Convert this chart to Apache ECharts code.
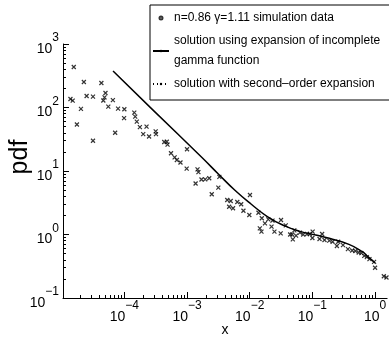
<!DOCTYPE html>
<html>
<head>
<meta charset="UTF-8">
<title>pdf</title>
<script src="https://cdn.jsdelivr.net/npm/echarts@6.0.0/dist/echarts.min.js"></script>
<style>
  html, body { margin: 0; padding: 0; background: #fff; }
  #chart { width: 389px; height: 345px; }
</style>
</head>
<body>
<div id="chart"></div>
<script>
// simulation data (x, pdf)
var simX = [1.38e-5, 1.50e-5, 1.56e-5, 1.75e-5, 2.03e-5, 2.26e-5, 2.50e-5, 3.16e-5, 3.16e-5, 4.30e-5,
  4.62e-5, 4.83e-5, 5.0e-5, 5.55e-5, 6.56e-5, 7.13e-5, 7.94e-5, 1.0e-4, 9.9e-5, 1.44e-4,
  1.49e-4, 1.58e-4, 1.77e-4, 2.0e-4, 2.26e-4, 2.48e-4, 3.16e-4, 3.2e-4, 4.33e-4, 4.75e-4,
  4.89e-4, 5.55e-4, 6.34e-4, 6.88e-4, 7.86e-4, 1.0e-3, 9.87e-4, 1.37e-3, 1.47e-3, 1.52e-3,
  1.70e-3, 1.95e-3, 2.26e-3, 2.48e-3, 3.16e-3, 3.28e-3, 4.38e-3, 4.98e-3, 4.70e-3, 5.42e-3,
  6.34e-3, 7.31e-3, 7.94e-3, 1.01e-2, 9.86e-3, 1.38e-2, 1.56e-2, 1.75e-2, 1.45e-2, 1.54e-2,
  1.98e-2, 2.31e-2, 2.23e-2, 2.48e-2, 3.16e-2, 3.12e-2, 3.76e-2, 4.42e-2, 4.75e-2, 4.87e-2,
  5.15e-2, 5.49e-2, 6.33e-2, 7.13e-2, 8.23e-2, 9.08e-2, 0.101, 0.100, 0.130, 0.143,
  0.156, 0.186, 0.210, 0.246, 0.258, 0.308, 0.369, 0.431, 0.486, 0.548,
  0.604, 0.673, 0.739, 0.814, 0.964, 1.0, 1.38, 1.52];
var simY = [136, 128, 434, 54, 95, 252, 152, 148, 30, 243,
  129, 144, 169, 103, 131, 40, 96, 94, 68, 83,
  72, 60, 49, 38, 50, 35, 42, 38, 28.6, 28.9,
  26, 19, 16.4, 14.9, 13.6, 22, 10.9, 6.35, 10.6, 9.6,
  7.35, 7.4, 7.7, 4.3, 5.46, 8.1, 3.49, 3.37, 2.74, 2.59,
  3.25, 2.99, 2.37, 4.19, 2.03, 2.20, 1.80, 1.50, 1.25, 1.11,
  1.73, 1.65, 1.33, 1.11, 1.69, 1.04, 1.39, 1.0, 1.0, 0.84,
  1.16, 0.96, 1.07, 1.0, 1.02, 1.02, 1.11, 0.88, 0.85, 1.02,
  0.82, 0.80, 0.77, 0.66, 0.77, 0.68, 0.59, 0.56, 0.55, 0.52,
  0.51, 0.46, 0.44, 0.41, 0.37, 0.30, 0.22, 0.21];

// solution using expansion of incomplete gamma function
var fitX = [6.6e-5, 2.87e-4, 1.73e-3, 3.16e-3, 5.75e-3, 1.05e-2, 1.91e-2, 3.47e-2, 6.33e-2, 0.113, 0.186, 0.383, 0.618, 0.785, 1.0];
var fitY = [376, 91, 16.3, 8.97, 5.02, 3.02, 1.92, 1.39, 1.12, 0.98, 0.87, 0.70, 0.54, 0.44, 0.356];

// second-order expansion (not distinguishable in the figure)
var secondX = [];
var secondY = [];

var xMajor = [1e-4, 1e-3, 1e-2, 1e-1, 1];
var yMajor = [0.1, 1, 10, 100, 1000];
var legendNames = ['n=0.86 \u03b3=1.11 simulation data',
  'solution using expansion of incomplete\ngamma function',
  'solution with second\u2013order expansion'];

function minorOf(decades) {
  var out = [];
  decades.forEach(function (d) {
    for (var k = 2; k <= 9; k++) out.push(d * k);
  });
  return out;
}

function pairs(xs, ys) {
  return xs.map(function (x, i) { return [x, ys[i]]; });
}

var font = "'Liberation Sans', Arial, sans-serif";

function powLabel(v) {
  var e = Math.round(Math.log10(v));
  return '{b|10}{e|' + String(e).replace('-', '\u2212') + '}';
}
var powRich = {
  b: { fontSize: 14, fontFamily: font, color: '#000', verticalAlign: 'bottom', lineHeight: 24 },
  e: { fontSize: 12, fontFamily: font, color: '#000', verticalAlign: 'top', lineHeight: 12 }
};

var xMin = 1.05e-5, xMax = 1.556;
var chart = echarts.init(document.getElementById('chart'));
chart.setOption({
  animation: false,
  grid: { left: 58, right: 0, top: 44, bottom: 47 },
  legend: {
    orient: 'vertical',
    left: 150, top: 5,
    padding: [3, 10, 6, 2],
    itemGap: 3,
    itemWidth: 16, itemHeight: 3,
    borderColor: '#000', borderWidth: 1,
    backgroundColor: '#fff',
    textStyle: { fontFamily: font, fontSize: 12, color: '#000', lineHeight: 20 },
    data: [
      { name: legendNames[0], icon: 'circle' },
      { name: legendNames[1] },
      { name: legendNames[2] }
    ]
  },
  xAxis: [{
    type: 'log', min: xMin, max: xMax,
    position: 'bottom',
    name: 'x', nameLocation: 'middle', nameGap: 25,
    nameTextStyle: { fontFamily: font, fontSize: 14, color: '#000' },
    axisLine: { onZero: false, lineStyle: { color: '#000', width: 1 } },
    axisTick: { inside: true, length: 3, customValues: minorOf([1e-5, 1e-4, 1e-3, 1e-2, 1e-1]), lineStyle: { color: '#000' } },
    axisLabel: { show: false },
    splitLine: { show: false }
  }, {
    type: 'log', min: xMin, max: xMax,
    position: 'bottom',
    axisLine: { show: false, onZero: false },
    axisTick: { inside: true, length: 6, customValues: xMajor, lineStyle: { color: '#000' } },
    axisLabel: { customValues: xMajor, margin: 2, formatter: powLabel, rich: powRich },
    splitLine: { show: false }
  }],
  yAxis: [{
    type: 'log', min: 0.1, max: 1000,
    position: 'left',
    name: 'pdf', nameLocation: 'middle', nameGap: 30,
    nameTextStyle: { fontFamily: font, fontSize: 25, color: '#000', padding: [0, 0, 0, 28] },
    axisLine: { onZero: false, lineStyle: { color: '#000', width: 1 } },
    axisTick: { inside: true, length: 3, customValues: minorOf([0.1, 1, 10, 100]), lineStyle: { color: '#000' } },
    axisLabel: { show: false },
    splitLine: { show: false }
  }, {
    type: 'log', min: 0.1, max: 1000,
    position: 'left',
    axisLine: { show: false, onZero: false },
    axisTick: { inside: true, length: 6, customValues: yMajor, lineStyle: { color: '#000' } },
    axisLabel: { customValues: yMajor, margin: 4, formatter: powLabel, rich: powRich },
    splitLine: { show: false }
  }],
  series: [{
    name: legendNames[0],
    type: 'scatter',
    xAxisIndex: 0, yAxisIndex: 0,
    symbol: 'path://M0,0L10,10M10,0L0,10',
    symbolSize: 4,
    itemStyle: { color: 'rgba(0,0,0,0)', borderColor: '#000', borderWidth: 1.2 },
    data: pairs(simX, simY)
  }, {
    name: legendNames[1],
    type: 'line',
    xAxisIndex: 0, yAxisIndex: 0,
    smooth: true,
    showSymbol: false, symbol: 'none',
    lineStyle: { color: '#000', width: 1.5 },
    itemStyle: { color: '#000' },
    data: pairs(fitX, fitY)
  }, {
    name: legendNames[2],
    type: 'line',
    xAxisIndex: 0, yAxisIndex: 0,
    showSymbol: false, symbol: 'none',
    lineStyle: { color: '#000', width: 1.5, type: [1, 3] },
    itemStyle: { color: '#000' },
    data: pairs(secondX, secondY)
  }]
});
</script>
</body>
</html>
